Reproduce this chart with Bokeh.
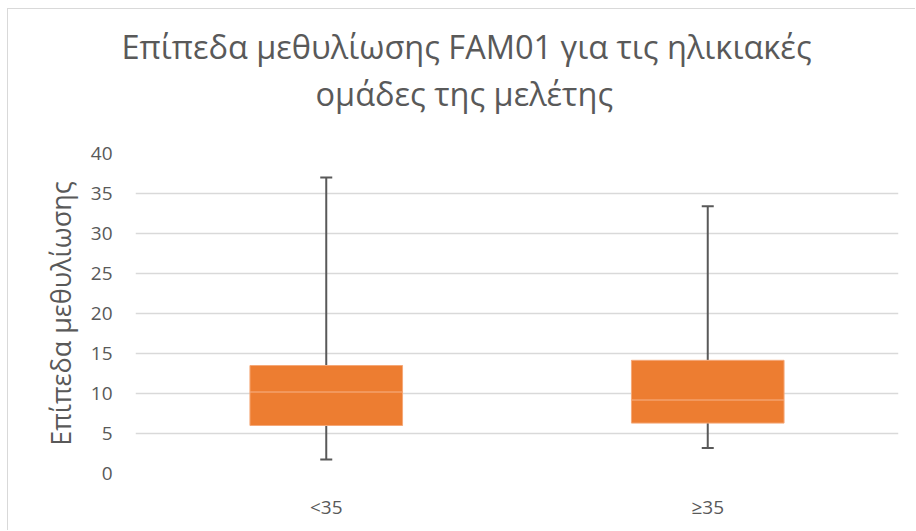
import numpy as np
from bokeh.plotting import figure
from bokeh.models import (ColumnDataSource, Range1d, FixedTicker, LinearAxis,
                          Title)
from bokeh.embed import file_html
from bokeh.resources import INLINE

# Five-number summaries of FAM01 methylation per age group
groups = ["<35", "≥35"]
minimum = [1.75, 3.2]
q1 = [6.0, 6.3]
median = [10.2, 9.2]
q3 = [13.5, 14.15]
maximum = [37.0, 33.4]

y_ticks = [0, 5, 10, 15, 20, 25, 30, 35, 40]

title_lines = ["Επίπεδα μεθυλίωσης FAM01 για τις ηλικιακές", "ομάδες της μελέτης"]

FONT = "Open Sans"
TEXT = "#595959"
ORANGE = "#ED7D31"

# one unit-wide slot per group, box centred in its slot
centers = np.arange(len(groups)) + 0.5

src = ColumnDataSource(dict(x=centers, lo=minimum, q1=q1, med=median,
                            q3=q3, hi=maximum))

p = figure(width=908, height=522, x_range=Range1d(0, len(groups)),
           y_range=Range1d(0, 40), output_backend="svg", toolbar_location=None,
           min_border_left=127, min_border_right=18, min_border_top=144,
           min_border_bottom=58, margin=(8, 0, 0, 7))
p.styles = {"border-top": "1px solid #D9D9D9", "border-left": "1px solid #D9D9D9"}
p.outline_line_color = None
p.background_fill_color = "white"
p.border_fill_color = "white"

# whiskers
p.segment(x0="x", y0="lo", x1="x", y1="q1", source=src,
          line_color=TEXT, line_width=2)
p.segment(x0="x", y0="q3", x1="x", y1="hi", source=src,
          line_color=TEXT, line_width=2)
p.rect(x="x", y="lo", width=12, height=2, width_units="screen",
       height_units="screen", source=src, fill_color=TEXT, line_color=None)
p.rect(x="x", y="hi", width=12, height=2, width_units="screen",
       height_units="screen", source=src, fill_color=TEXT, line_color=None)

# boxes: lower and upper halves around the median
p.vbar(x="x", bottom="q1", top="med", width=0.4, source=src,
       fill_color=ORANGE, line_color="#F5A878", line_width=1)
p.vbar(x="x", bottom="med", top="q3", width=0.4, source=src,
       fill_color=ORANGE, line_color="#F5A878", line_width=1)

# axes
p.xgrid.grid_line_color = None
p.ygrid.grid_line_color = "#D9D9D9"
p.ygrid.grid_line_width = 1.5
p.yaxis.ticker = FixedTicker(ticks=y_ticks)
p.xaxis.ticker = FixedTicker(ticks=list(centers))
p.xaxis.major_label_overrides = {float(c): g for c, g in zip(centers, groups)}
for ax in (p.xaxis, p.yaxis):
    ax.axis_line_color = None
    ax.major_tick_line_color = None
    ax.minor_tick_line_color = None
    ax.major_tick_out = 0
    ax.major_tick_in = 0
    ax.minor_tick_out = 0
    ax.major_label_text_font = FONT
    ax.major_label_text_font_size = "19px"
    ax.major_label_text_color = TEXT
p.yaxis.major_label_standoff = 23
p.xaxis.major_label_standoff = 20
p.yaxis.axis_label = "Επίπεδα μεθυλίωσης"
p.yaxis.axis_label_text_font = FONT
p.yaxis.axis_label_text_font_size = "27px"
p.yaxis.axis_label_text_font_style = "normal"
p.yaxis.axis_label_text_color = TEXT
p.yaxis.axis_label_standoff = 9

# empty band between the plot area and the title: an unlabelled top axis
gap = LinearAxis(ticker=FixedTicker(ticks=list(centers)), axis_line_color=None,
                 major_tick_line_color=None, minor_tick_line_color=None,
                 major_tick_out=38, major_tick_in=0, minor_tick_out=0,
                 major_label_standoff=0, major_label_text_font_size="1px",
                 major_label_overrides={float(c): "" for c in centers})
p.add_layout(gap, "above")

# chart title, two lines (nearest the plot first)
for txt, off in ((title_lines[1], 180), (title_lines[0], -14)):
    p.add_layout(Title(text=txt, align="left", offset=off, standoff=0,
                       text_font=FONT, text_font_size="32.5px",
                       text_font_style="normal", text_color=TEXT), "above")

open("out.html", "w").write(file_html(p, INLINE))
